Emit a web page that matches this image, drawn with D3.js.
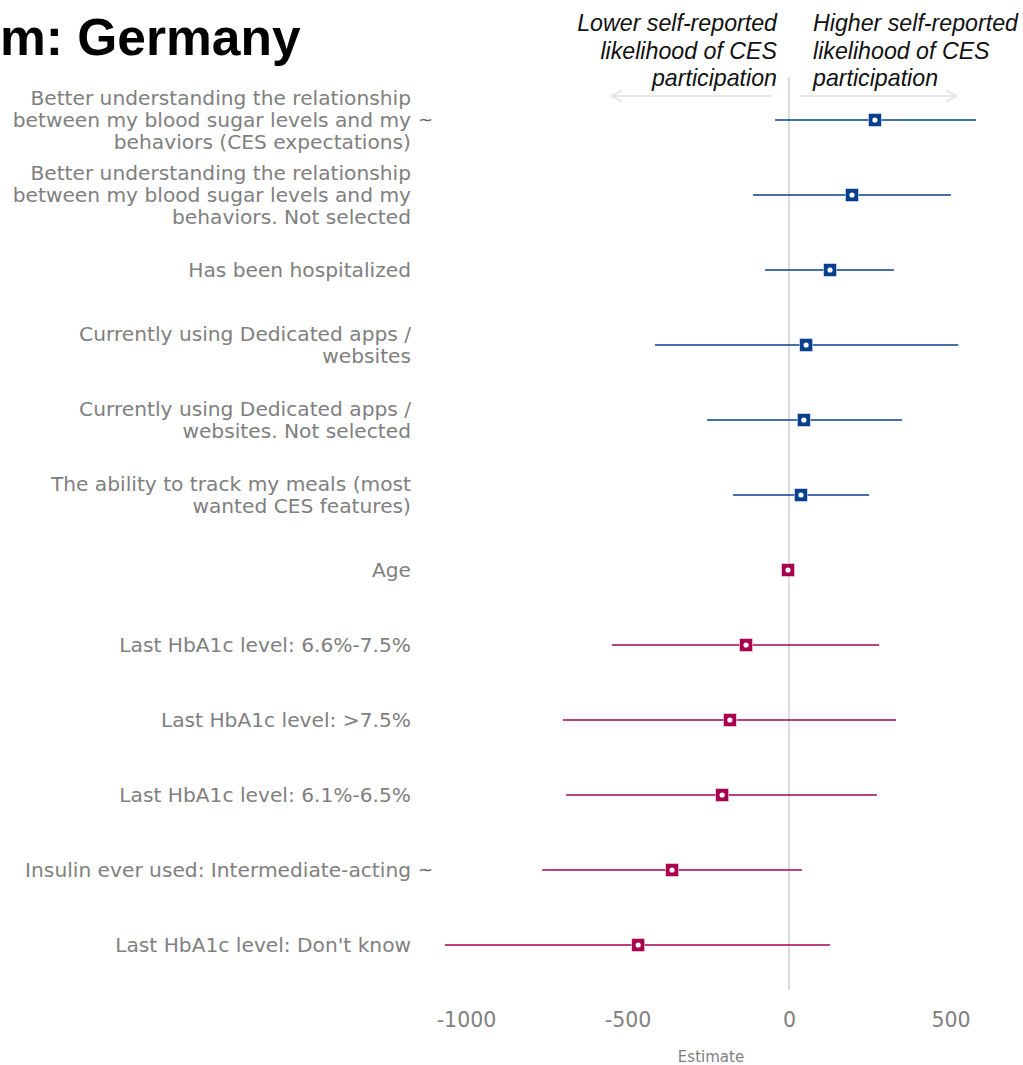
<!DOCTYPE html>
<html>
<head>
<meta charset="utf-8">
<script src="https://cdn.jsdelivr.net/npm/d3@7"></script>
<style>
  html, body { margin: 0; padding: 0; background: #ffffff; }
  svg { display: block; }
</style>
</head>
<body>
<div id="chart"></div>
<script>
// Coefficient estimates with confidence intervals, one row per term (top to bottom)
const terms = [
  "Better understanding the relationship\nbetween my blood sugar levels and my\nbehaviors (CES expectations)",
  "Better understanding the relationship\nbetween my blood sugar levels and my\nbehaviors. Not selected",
  "Has been hospitalized",
  "Currently using Dedicated apps /\nwebsites",
  "Currently using Dedicated apps /\nwebsites. Not selected",
  "The ability to track my meals (most\nwanted CES features)",
  "Age",
  "Last HbA1c level: 6.6%-7.5%",
  "Last HbA1c level: >7.5%",
  "Last HbA1c level: 6.1%-6.5%",
  "Insulin ever used: Intermediate-acting",
  "Last HbA1c level: Don't know"
];
const estimates = [266, 195, 127, 53, 46, 37, -3, -133, -183, -207, -362, -467];
const lowerCI   = [-43, -111, -74, -415, -254, -173, -5, -548, -700, -690, -764, -1065];
const upperCI   = [579, 501, 325, 524, 350, 248, -1, 279, 331, 272, 40, 127];
// Terms whose label was shortened in the source table
const truncated = [true, false, false, false, false, false, false, false, false, false, true, false];
const xTicks = [-1000, -500, 0, 500];

const W = 1023, H = 1065;
const BLUE = "#073f8e", RED = "#a6004f";

const rows = terms.map((t, i) => ({
  term: t, est: estimates[i], lo: lowerCI[i], hi: upperCI[i], cut: truncated[i]
}));

const svg = d3.select("#chart").append("svg")
  .attr("width", W).attr("height", H)
  .style("font-family", "'DejaVu Sans', sans-serif");

const x = d3.scaleLinear().domain([-1000, 500]).range([466, 950.5]);
const y = d3.scalePoint().domain(terms).range([120, 945]);

// Title
svg.append("text")
  .attr("x", 0).attr("y", 55)
  .attr("text-anchor", "start")
  .style("font-family", "'Liberation Sans', Arial, sans-serif")
  .style("font-weight", "bold")
  .style("font-size", "51.5px")
  .attr("fill", "#000")
  .text("m: Germany");

// Reference line at zero
svg.append("line")
  .attr("x1", x(0)).attr("x2", x(0))
  .attr("y1", 77).attr("y2", 990)
  .attr("stroke", "#cfcfcf").attr("stroke-width", 1.5);

// Direction annotations
const annFont = "'Liberation Sans', Arial, sans-serif";
const leftLines = ["Lower self-reported", "likelihood of CES", "participation"];
const rightLines = ["Higher self-reported", "likelihood of CES", "participation"];
const ann = svg.append("g")
  .style("font-family", annFont).style("font-style", "italic")
  .style("font-size", "23.2px").attr("fill", "#111");
ann.selectAll("text.l").data(leftLines).join("text")
  .attr("class", "l").attr("x", x(0) - 12).attr("y", (d, i) => 31 + i * 27.5)
  .attr("text-anchor", "end").text(d => d);
ann.selectAll("text.r").data(rightLines).join("text")
  .attr("class", "r").attr("x", x(0) + 24).attr("y", (d, i) => 31 + i * 27.5)
  .attr("text-anchor", "start").text(d => d);

const defs = svg.append("defs");
defs.append("marker")
  .attr("id", "arrowhead").attr("viewBox", "0 0 10 10")
  .attr("refX", 9).attr("refY", 5)
  .attr("markerWidth", 7).attr("markerHeight", 7)
  .attr("orient", "auto-start-reverse")
  .append("path").attr("d", "M1,1 L9,5 L1,9")
  .attr("fill", "none").attr("stroke", "#e8e8e8").attr("stroke-width", 1.6);

svg.append("line")
  .attr("x1", x(0) - 18).attr("x2", x(-550)).attr("y1", 96).attr("y2", 96)
  .attr("stroke", "#e8e8e8").attr("stroke-width", 2)
  .attr("marker-end", "url(#arrowhead)");
svg.append("line")
  .attr("x1", x(0) + 12).attr("x2", x(520)).attr("y1", 96).attr("y2", 96)
  .attr("stroke", "#e8e8e8").attr("stroke-width", 2)
  .attr("marker-end", "url(#arrowhead)");

// Term labels
const labels = svg.append("g")
  .style("font-size", "20.2px").attr("fill", "#808080");
rows.forEach(r => {
  const lines = r.term.split("\n");
  const cy = y(r.term);
  const lh = 22;
  const t = labels.append("text")
    .attr("text-anchor", "end")
    .attr("x", 411);
  lines.forEach((ln, j) => {
    t.append("tspan")
      .attr("x", 411)
      .attr("y", cy + (j - (lines.length - 1) / 2) * lh)
      .attr("dy", "0.35em")
      .text(ln);
  });
  if (r.cut) {
    labels.append("text")
      .attr("x", 418).attr("y", cy)
      .attr("dy", "0.35em")
      .style("font-size", "18px")
      .attr("fill", "#666")
      .text("~");
  }
});

// Confidence intervals
const color = d => d.est >= 0 ? BLUE : RED;
svg.append("g").selectAll("line").data(rows).join("line")
  .attr("x1", d => x(d.lo)).attr("x2", d => x(d.hi))
  .attr("y1", d => y(d.term)).attr("y2", d => y(d.term))
  .attr("stroke", color).attr("stroke-width", 1.6);

// Point estimates: filled square with a white centre dot
const pts = svg.append("g").selectAll("g").data(rows).join("g")
  .attr("transform", d => `translate(${x(d.est)},${y(d.term)})`);
pts.append("rect")
  .attr("x", -6.5).attr("y", -6.5).attr("width", 13).attr("height", 13)
  .attr("fill", color)
  .attr("stroke", "#ffffff").attr("stroke-opacity", 0.6).attr("stroke-width", 0.8);
pts.append("circle").attr("r", 2.6).attr("fill", "#ffffff");

// X axis
const axis = d3.axisBottom(x).tickValues(xTicks).tickFormat(d => String(d)).tickSize(0).tickPadding(0);
const gx = svg.append("g").attr("transform", "translate(0,1012)").call(axis);
gx.select(".domain").remove();
gx.selectAll("text")
  .style("font-family", "'DejaVu Sans', sans-serif")
  .style("font-size", "20.5px")
  .attr("fill", "#808080");

svg.append("text")
  .attr("x", 711).attr("y", 1062)
  .attr("text-anchor", "middle")
  .style("font-size", "15px")
  .attr("fill", "#808080")
  .text("Estimate");
</script>
</body>
</html>
